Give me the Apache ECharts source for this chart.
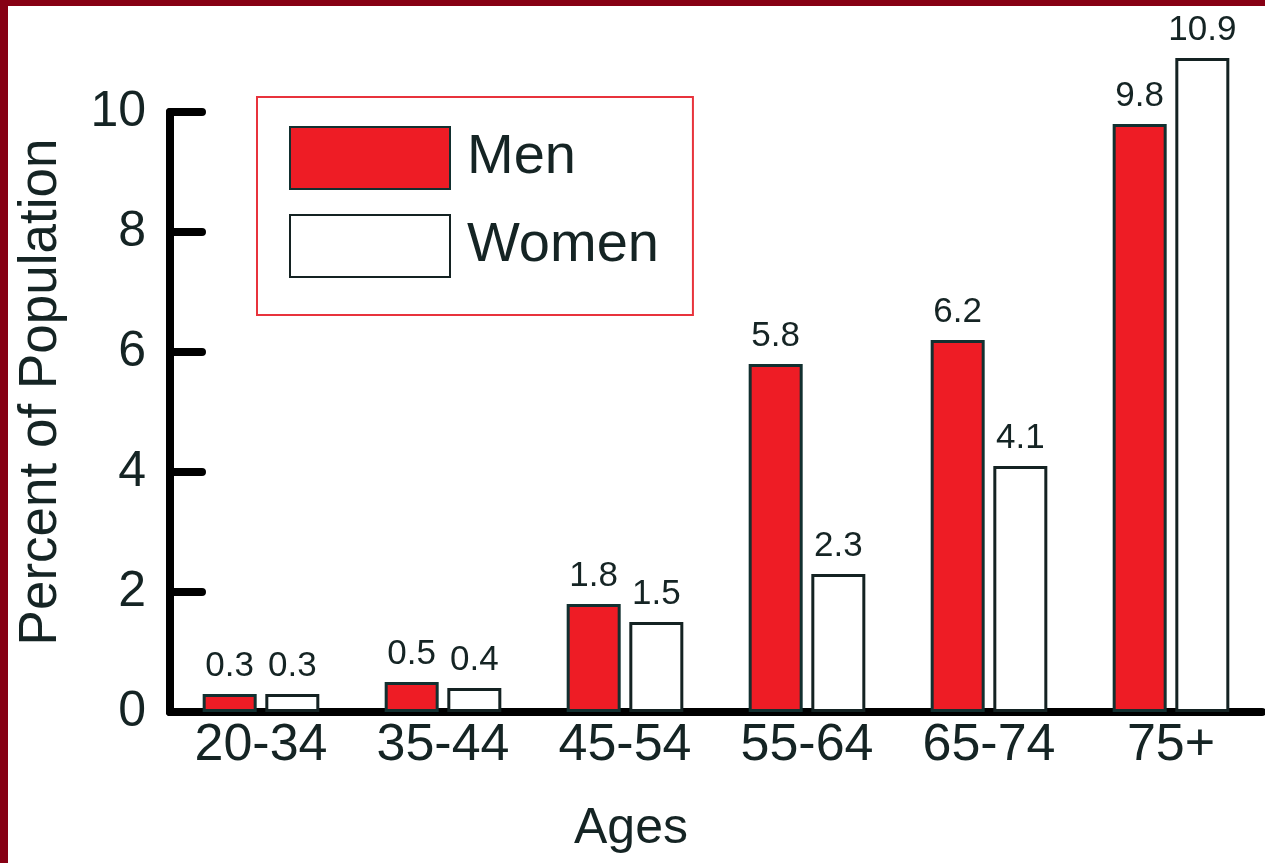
<!DOCTYPE html>
<html>
<head>
<meta charset="utf-8">
<script src="https://cdn.jsdelivr.net/npm/echarts@6/dist/echarts.min.js"></script>
<style>
  html, body { margin: 0; padding: 0; background: #ffffff; }
  #chart { position: absolute; left: 0; top: 0; width: 1265px; height: 863px; }
  .frame { position: absolute; background: #870014; }
</style>
</head>
<body>
<div id="chart"></div>
<div class="frame" style="left:0;top:0;width:1265px;height:6px;"></div>
<div class="frame" style="left:0;top:0;width:8px;height:863px;"></div>
<script>
// Age groups and percent of population by sex
const ageGroups = ['20-34', '35-44', '45-54', '55-64', '65-74', '75+'];
const menValues = [0.3, 0.5, 1.8, 5.8, 6.2, 9.8];
const womenValues = [0.3, 0.4, 1.5, 2.3, 4.1, 10.9];
const yTicks = [0, 2, 4, 6, 8, 10];

const FONT = '"Liberation Sans", Arial, sans-serif';
const INK = '#152424';

const chart = echarts.init(document.getElementById('chart'));

const valueLabel = {
  show: true,
  position: 'top',
  distance: 10,
  fontFamily: FONT,
  fontSize: 35,
  color: INK
};

chart.setOption({
  animation: false,
  backgroundColor: 'transparent',
  grid: { left: 170, right: 3, top: 112, bottom: 151, containLabel: false },
  legend: {
    orient: 'vertical',
    left: 257,
    top: 97,
    padding: [29, 34, 37, 32],
    borderColor: '#e8333c',
    borderWidth: 2,
    itemWidth: 160,
    itemHeight: 62,
    itemGap: 24,
    icon: 'rect',
    textStyle: { fontFamily: FONT, fontSize: 56, color: INK, padding: [0, 0, 0, 12] },
    data: ['Men', 'Women']
  },
  xAxis: {
    type: 'category',
    data: ageGroups,
    name: 'Ages',
    nameLocation: 'middle',
    nameGap: 92,
    nameTextStyle: { fontFamily: FONT, fontSize: 50, color: INK, padding: [0, 170, 0, 0] },
    axisLine: { lineStyle: { color: '#000', width: 8 } },
    axisTick: { show: false },
    axisLabel: { fontFamily: FONT, fontSize: 52, color: INK, margin: 8, interval: 0 }
  },
  yAxis: {
    type: 'value',
    min: 0,
    max: 10,
    interval: 2,
    name: 'Percent of Population',
    nameLocation: 'middle',
    nameGap: 102,
    nameTextStyle: { fontFamily: FONT, fontSize: 53, color: INK, padding: [0, 0, 0, 40] },
    axisLine: { show: true, lineStyle: { color: '#000', width: 8, cap: 'round' } },
    axisTick: { show: true, inside: true, length: 32, lineStyle: { color: '#000', width: 8, cap: 'round' } },
    axisLabel: {
      fontFamily: FONT, fontSize: 50, color: INK, margin: 24,
      customValues: yTicks
    },
    splitLine: { show: false }
  },
  series: [
    {
      name: 'Men',
      type: 'bar',
      data: menValues,
      barWidth: 54,
      barGap: '16%',
      clip: false,
      itemStyle: { color: '#ee1c25', borderColor: '#123030', borderWidth: 3 },
      label: valueLabel
    },
    {
      name: 'Women',
      type: 'bar',
      data: womenValues,
      barWidth: 54,
      barGap: '16%',
      clip: false,
      itemStyle: { color: '#ffffff', borderColor: '#142222', borderWidth: 3 },
      label: valueLabel
    }
  ]
});
</script>
</body>
</html>
